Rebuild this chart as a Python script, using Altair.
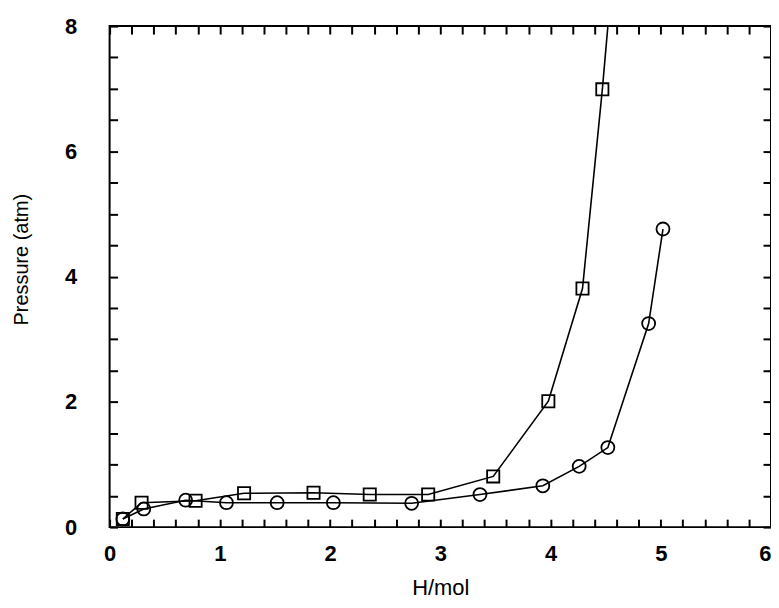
import altair as alt
import pandas as pd

# ---- data ----
sq_x = [0.12, 0.29, 0.78, 1.22, 1.85, 2.36, 2.89, 3.48, 3.98, 4.29, 4.47]
sq_y = [0.13, 0.39, 0.42, 0.54, 0.55, 0.52, 0.52, 0.81, 2.01, 3.81, 6.99]
# the square curve keeps rising past the top of the frame (no marker there)
sq_tail_x = [4.55]
sq_tail_y = [8.6]
ci_x = [0.12, 0.31, 0.69, 1.06, 1.52, 2.03, 2.74, 3.36, 3.93, 4.26, 4.52, 4.89, 5.02]
ci_y = [0.13, 0.29, 0.43, 0.39, 0.39, 0.39, 0.38, 0.52, 0.66, 0.97, 1.27, 3.25, 4.76]

x_major = [0, 1, 2, 3, 4, 5, 6]
x_minor = [0.2, 0.4, 0.6, 0.8, 1.2, 1.4, 1.6, 1.8, 2.2, 2.4, 2.6, 2.8,
           3.2, 3.4, 3.6, 3.8, 4.2, 4.4, 4.6, 4.8, 5.2, 5.4, 5.6, 5.8]
y_major = [0, 2, 4, 6, 8]
y_minor = [0.5, 1, 1.5, 2.5, 3, 3.5, 4.5, 5, 5.5, 6.5, 7, 7.5]

W, H = 664, 503
TICK = 8
FONT = "Liberation Sans"

sq_line = pd.DataFrame({"x": sq_x + sq_tail_x, "y": sq_y + sq_tail_y})
sq_pts = pd.DataFrame({"x": sq_x, "y": sq_y})
ci_df = pd.DataFrame({"x": ci_x, "y": ci_y})

xs = alt.Scale(domain=[0, 6], nice=False, zero=False)
ys = alt.Scale(domain=[0, 8], nice=False, zero=False)

# bottom / left axes: labels + ticks pulled inside the frame (offset = -tick length)
xaxis = alt.Axis(values=x_major + x_minor, title="H/mol", grid=False, domain=False,
                 ticks=True, tickSize=TICK, tickWidth=2, tickColor="black",
                 offset=alt.expr(f"-{TICK}"),
                 labelExpr="datum.value % 1 == 0 ? '' + datum.value : ''",
                 labelOverlap=False,
                 labelFont=FONT, labelFontSize=22, labelFontWeight="bold", labelColor="black",
                 labelPadding=17, labelFlush=False,
                 labelAlign=alt.expr("datum.value == 6 ? 'right' : 'center'"),
                 titleFont=FONT, titleFontSize=22, titleFontWeight="normal", titleColor="black",
                 titlePadding=13)
yaxis = alt.Axis(values=y_major + y_minor, title="Pressure (atm)", grid=False, domain=False,
                 ticks=True, tickSize=TICK, tickWidth=2, tickColor="black",
                 offset=alt.expr(f"-{TICK}"),
                 labelExpr="datum.value % 2 == 0 ? '' + datum.value : ''",
                 labelOverlap=False,
                 labelFont=FONT, labelFontSize=22, labelFontWeight="bold", labelColor="black",
                 labelPadding=33, labelFlush=False,
                 titleFont=FONT, titleFontSize=20, titleFontWeight="normal", titleColor="black",
                 titleX=-78 - TICK, titleY=234)
# top / right axes: ticks only
xaxis_top = alt.Axis(orient="top", values=x_major + x_minor, title=None, labels=False,
                     grid=False, domain=False, ticks=True, tickSize=TICK, tickWidth=2,
                     tickColor="black", offset=alt.expr(f"-{TICK}"))
yaxis_right = alt.Axis(orient="right", values=y_major + y_minor, title=None, labels=False,
                       grid=False, domain=False, ticks=True, tickSize=TICK, tickWidth=2,
                       tickColor="black", offset=alt.expr(f"-{TICK}"))

line_sq = alt.Chart(sq_line).mark_line(color="black", strokeWidth=1.6, clip=True).encode(
    x=alt.X("x:Q", scale=xs, axis=xaxis), y=alt.Y("y:Q", scale=ys, axis=yaxis))
line_ci = alt.Chart(ci_df).mark_line(color="black", strokeWidth=1.6).encode(
    x=alt.X("x:Q", scale=xs, axis=xaxis_top), y=alt.Y("y:Q", scale=ys, axis=yaxis_right))
pts_sq = alt.Chart(sq_pts).mark_point(shape="square", size=150, filled=False, color="black",
                                       strokeWidth=1.8, opacity=1).encode(
    x=alt.X("x:Q", scale=xs, axis=None), y=alt.Y("y:Q", scale=ys, axis=None))
pts_ci = alt.Chart(ci_df).mark_point(shape="circle", size=170, filled=False, color="black",
                                      strokeWidth=1.8, opacity=1).encode(
    x=alt.X("x:Q", scale=xs, axis=None), y=alt.Y("y:Q", scale=ys, axis=None))

chart = alt.layer(line_sq, line_ci, pts_sq, pts_ci).resolve_axis(
    x="independent", y="independent"
).properties(
    width=W, height=H,
    autosize=alt.AutoSizeParams(type="none"),
    padding={"left": 102, "top": 17, "right": 0, "bottom": 72},
    background="white",
).configure_view(stroke="black", strokeWidth=2)

chart.save("out.html", embed_options={"renderer": "svg", "actions": False})
